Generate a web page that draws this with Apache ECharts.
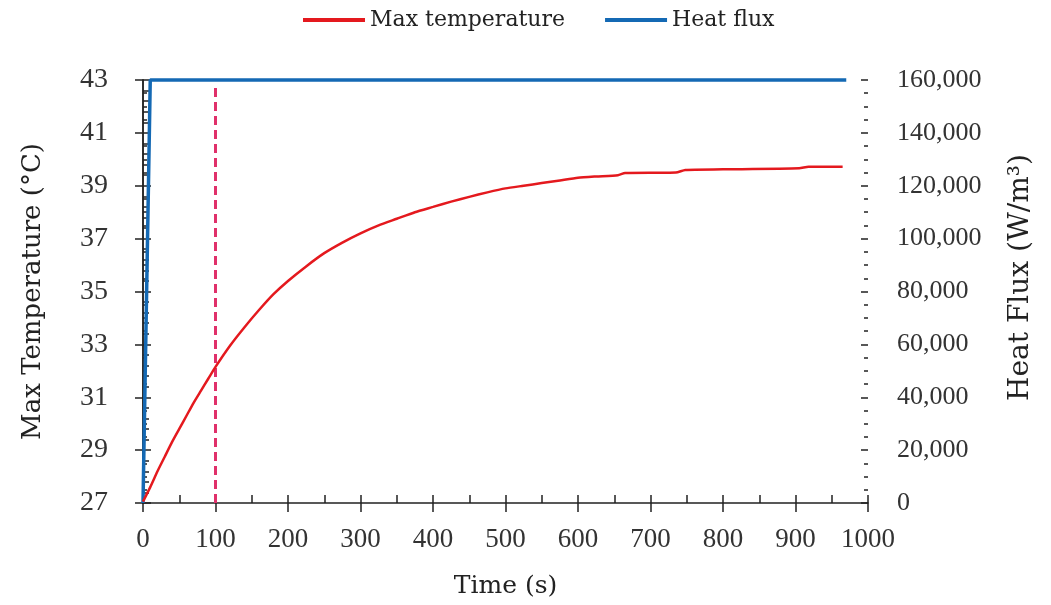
<!DOCTYPE html>
<html>
<head>
<meta charset="utf-8">
<script src="https://cdn.jsdelivr.net/npm/echarts@6/dist/echarts.min.js"></script>
<style>
  html, body { margin: 0; padding: 0; background: #fff; }
  #main { width: 1051px; height: 605px; }
</style>
</head>
<body>
<div id="main"></div>
<script>
// 温度曲线 (s, °C)
var tempTime = [0, 10, 20, 30, 40, 50, 60, 70, 80, 90, 100, 120, 140, 160, 180, 200, 225, 250, 275, 300,
    325, 350, 375, 400, 425, 450, 475, 500, 525, 550, 575, 600, 625, 655, 665, 735, 748, 800, 905, 918, 965];
var tempValue = [27.05, 27.6, 28.2, 28.75, 29.3, 29.8, 30.3, 30.8, 31.25, 31.7, 32.15, 32.95, 33.65, 34.3, 34.9, 35.4, 35.95, 36.45, 36.85, 37.2,
    37.5, 37.75, 38.0, 38.2, 38.4, 38.58, 38.75, 38.9, 39.0, 39.1, 39.2, 39.3, 39.35, 39.4, 39.48, 39.5, 39.6, 39.62, 39.66, 39.72, 39.72];

// 热流 (s, W/m3)
var fluxTime = [0, 10, 970];
var fluxValue = [0, 160000, 160000];

// 虚线标记 t = 100 s
var markTime = [100, 100];
var markValue = [27, 42.7];

var serif = '"DejaVu Serif", serif';
var numFont = '"Liberation Serif", serif';

function pairs(x, y) {
    var out = [];
    for (var i = 0; i < x.length; i++) out.push([x[i], y[i]]);
    return out;
}

var chart = echarts.init(document.getElementById('main'));

var axisLineStyle = { color: '#222', width: 1.5 };
var tickStyle = { color: '#222', width: 1.5 };

chart.setOption({
    animation: false,
    legend: {
        top: 4,
        left: 298,
        itemWidth: 62,
        itemHeight: 4,
        itemGap: 40,
        icon: 'rect',
        data: ['Max temperature', 'Heat flux'],
        textStyle: { fontFamily: serif, fontSize: 22, color: '#222' }
    },
    grid: {
        left: 143,
        right: 183,
        top: 80,
        bottom: 102
    },
    xAxis: [{
        type: 'value',
        position: 'bottom',
        min: 0,
        max: 1000,
        interval: 100,
        name: 'Time (s)',
        nameLocation: 'middle',
        nameGap: 71,
        nameTextStyle: { fontFamily: serif, fontSize: 25, color: '#222' },
        axisLine: { show: true, lineStyle: axisLineStyle },
        axisTick: { show: true, inside: false, length: 9, lineStyle: tickStyle },
        axisLabel: {
            margin: 23, fontFamily: numFont, fontSize: 27, color: '#333',
            formatter: function (v) { return String(v); }
        },
        splitLine: { show: false }
    }, {
        type: 'value',
        position: 'bottom',
        min: 0,
        max: 1000,
        interval: 100,
        axisLine: { show: false },
        axisTick: { show: true, inside: true, length: 8, lineStyle: tickStyle },
        minorTick: { show: true, splitNumber: 2, length: 8, lineStyle: tickStyle },
        axisLabel: { show: false },
        splitLine: { show: false }
    }],
    yAxis: [{
        type: 'value',
        position: 'left',
        min: 27,
        max: 43,
        interval: 2,
        name: 'Max Temperature (°C)',
        nameLocation: 'middle',
        nameRotate: 90,
        nameGap: 97,
        nameTextStyle: { fontFamily: serif, fontSize: 26, color: '#222' },
        axisLine: { show: true, lineStyle: axisLineStyle },
        axisTick: { show: true, inside: false, length: 8, lineStyle: tickStyle },
        axisLabel: { margin: 35, fontFamily: numFont, fontSize: 28, color: '#333' },
        splitLine: { show: false }
    }, {
        type: 'value',
        position: 'right',
        min: 0,
        max: 160000,
        interval: 20000,
        name: 'Heat Flux (W/m³)',
        nameLocation: 'middle',
        nameRotate: 90,
        nameGap: 139,
        nameTextStyle: { fontFamily: serif, fontSize: 28, color: '#222', padding: [0, 0, 0, 28] },
        axisLine: { show: true, lineStyle: axisLineStyle },
        axisTick: { show: true, inside: false, length: 8, lineStyle: tickStyle },
        minorTick: { show: true, splitNumber: 4, length: 4, lineStyle: tickStyle },
        axisLabel: {
            margin: 29, fontFamily: numFont, fontSize: 26, color: '#333',
            formatter: function (v) { return v.toLocaleString('en-US'); }
        },
        splitLine: { show: false }
    }, {
        type: 'value',
        position: 'left',
        min: 27,
        max: 43,
        interval: 2,
        axisLine: { show: false },
        axisTick: { show: true, inside: true, length: 7, lineStyle: tickStyle },
        minorTick: { show: true, splitNumber: 5, length: 6, lineStyle: tickStyle },
        axisLabel: { show: false },
        splitLine: { show: false }
    }, {
        type: 'value',
        position: 'right',
        min: 0,
        max: 160000,
        interval: 20000,
        axisLine: { show: false },
        axisTick: { show: true, inside: true, length: 7, lineStyle: tickStyle },
        minorTick: { show: true, splitNumber: 4, length: 4, lineStyle: tickStyle },
        axisLabel: { show: false },
        splitLine: { show: false }
    }],
    series: [{
        name: 'Max temperature',
        type: 'line',
        xAxisIndex: 0,
        yAxisIndex: 0,
        showSymbol: false,
        smooth: 0.2,
        color: '#e4191e',
        lineStyle: { width: 2.5 },
        data: pairs(tempTime, tempValue),
        z: 3
    }, {
        name: 'Heat flux',
        type: 'line',
        xAxisIndex: 0,
        yAxisIndex: 1,
        showSymbol: false,
        color: '#1469b4',
        lineStyle: { width: 3.5 },
        clip: false,
        data: pairs(fluxTime, fluxValue),
        z: 2
    }, {
        name: 'marker',
        type: 'line',
        xAxisIndex: 0,
        yAxisIndex: 0,
        showSymbol: false,
        color: '#e0306a',
        lineStyle: { width: 3, type: [9, 5] },
        data: pairs(markTime, markValue),
        z: 1
    }]
});
</script>
</body>
</html>
